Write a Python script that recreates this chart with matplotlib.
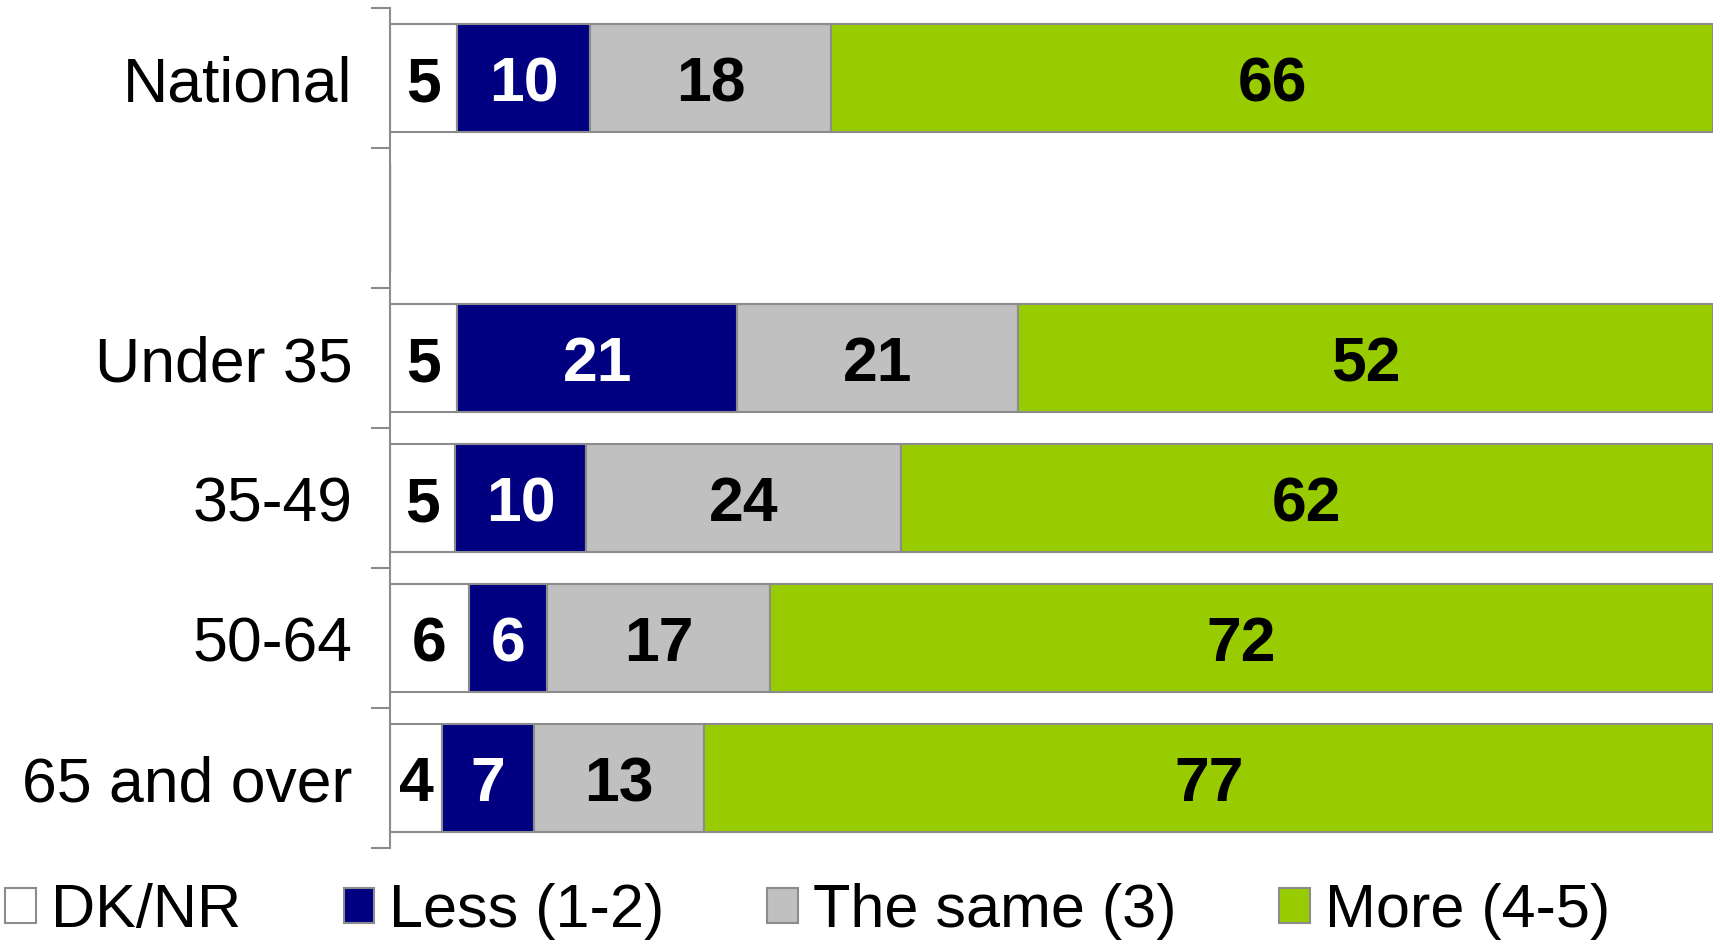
import numpy as np
import matplotlib
matplotlib.use('Agg')
import matplotlib.pyplot as plt

plt.rcParams['font.family'] = ['Liberation Sans', 'DejaVu Sans']

# data
categories = ['National', '', 'Under 35', '35-49', '50-64', '65 and over']
series_names = ['DK/NR', 'Less (1-2)', 'The same (3)', 'More (4-5)']
dk_nr = [5, np.nan, 5, 5, 6, 4]
less = [10, np.nan, 21, 10, 6, 7]
same = [18, np.nan, 21, 24, 17, 13]
more = [66, np.nan, 52, 62, 72, 77]

colors = ['#FFFFFF', '#000080', '#C0C0C0', '#99CC00']
label_colors = ['black', 'white', 'black', 'black']
edge = '#8C8C8C'

W, H = 1719, 942
fig = plt.figure(figsize=(W / 100, H / 100), dpi=100)
ax = fig.add_axes([390 / W, 1 - 848 / H, (1713 - 390) / W, (848 - 8) / H])

data = np.array([dk_nr, less, same, more], dtype=float)
totals = data.sum(axis=0)
pct = data / totals * 100  # 100% stacked, like the original
ypos = np.arange(len(categories))

left = np.zeros(len(categories))
for k in range(len(series_names)):
    vals = np.nan_to_num(pct[k])
    bars = ax.barh(ypos, vals, left=left, height=0.77, color=colors[k],
                   edgecolor=edge, linewidth=1.5, label=series_names[k])
    for i in range(len(categories)):
        if np.isnan(data[k][i]):
            continue
        ax.text(left[i] + vals[i] / 2, ypos[i], '%d' % data[k][i],
                ha='center', va='center_baseline', fontsize=45,
                fontweight='bold', color=label_colors[k])
    left = left + vals

ax.set_xlim(0, 100)
ax.set_ylim(len(categories) - 0.5, -0.5)
ax.set_xticks([])

# ticks at the category boundaries, labels at the centres
ax.set_yticks(np.arange(len(categories) + 1) - 0.5)
ax.set_yticklabels([])
ax.set_yticks(ypos, minor=True)
ax.set_yticklabels(categories, minor=True, fontsize=45)
ax.tick_params(axis='y', which='major', direction='out', length=14,
               width=1.5, color=edge)
ax.tick_params(axis='y', which='minor', length=0, pad=27)

for s in ['top', 'right', 'bottom']:
    ax.spines[s].set_visible(False)
ax.spines['left'].set_color(edge)
ax.spines['left'].set_linewidth(1.5)

handles, labels = ax.get_legend_handles_labels()
fig.legend(handles, labels, loc='center left', ncol=4,
           bbox_to_anchor=(5 / W, 1 - 912 / H), frameon=False,
           fontsize=44, handlelength=0.5, handleheight=0.5,
           handletextpad=0.25, columnspacing=1.68, borderpad=0,
           borderaxespad=0)

fig.savefig('out.png', dpi=100)
